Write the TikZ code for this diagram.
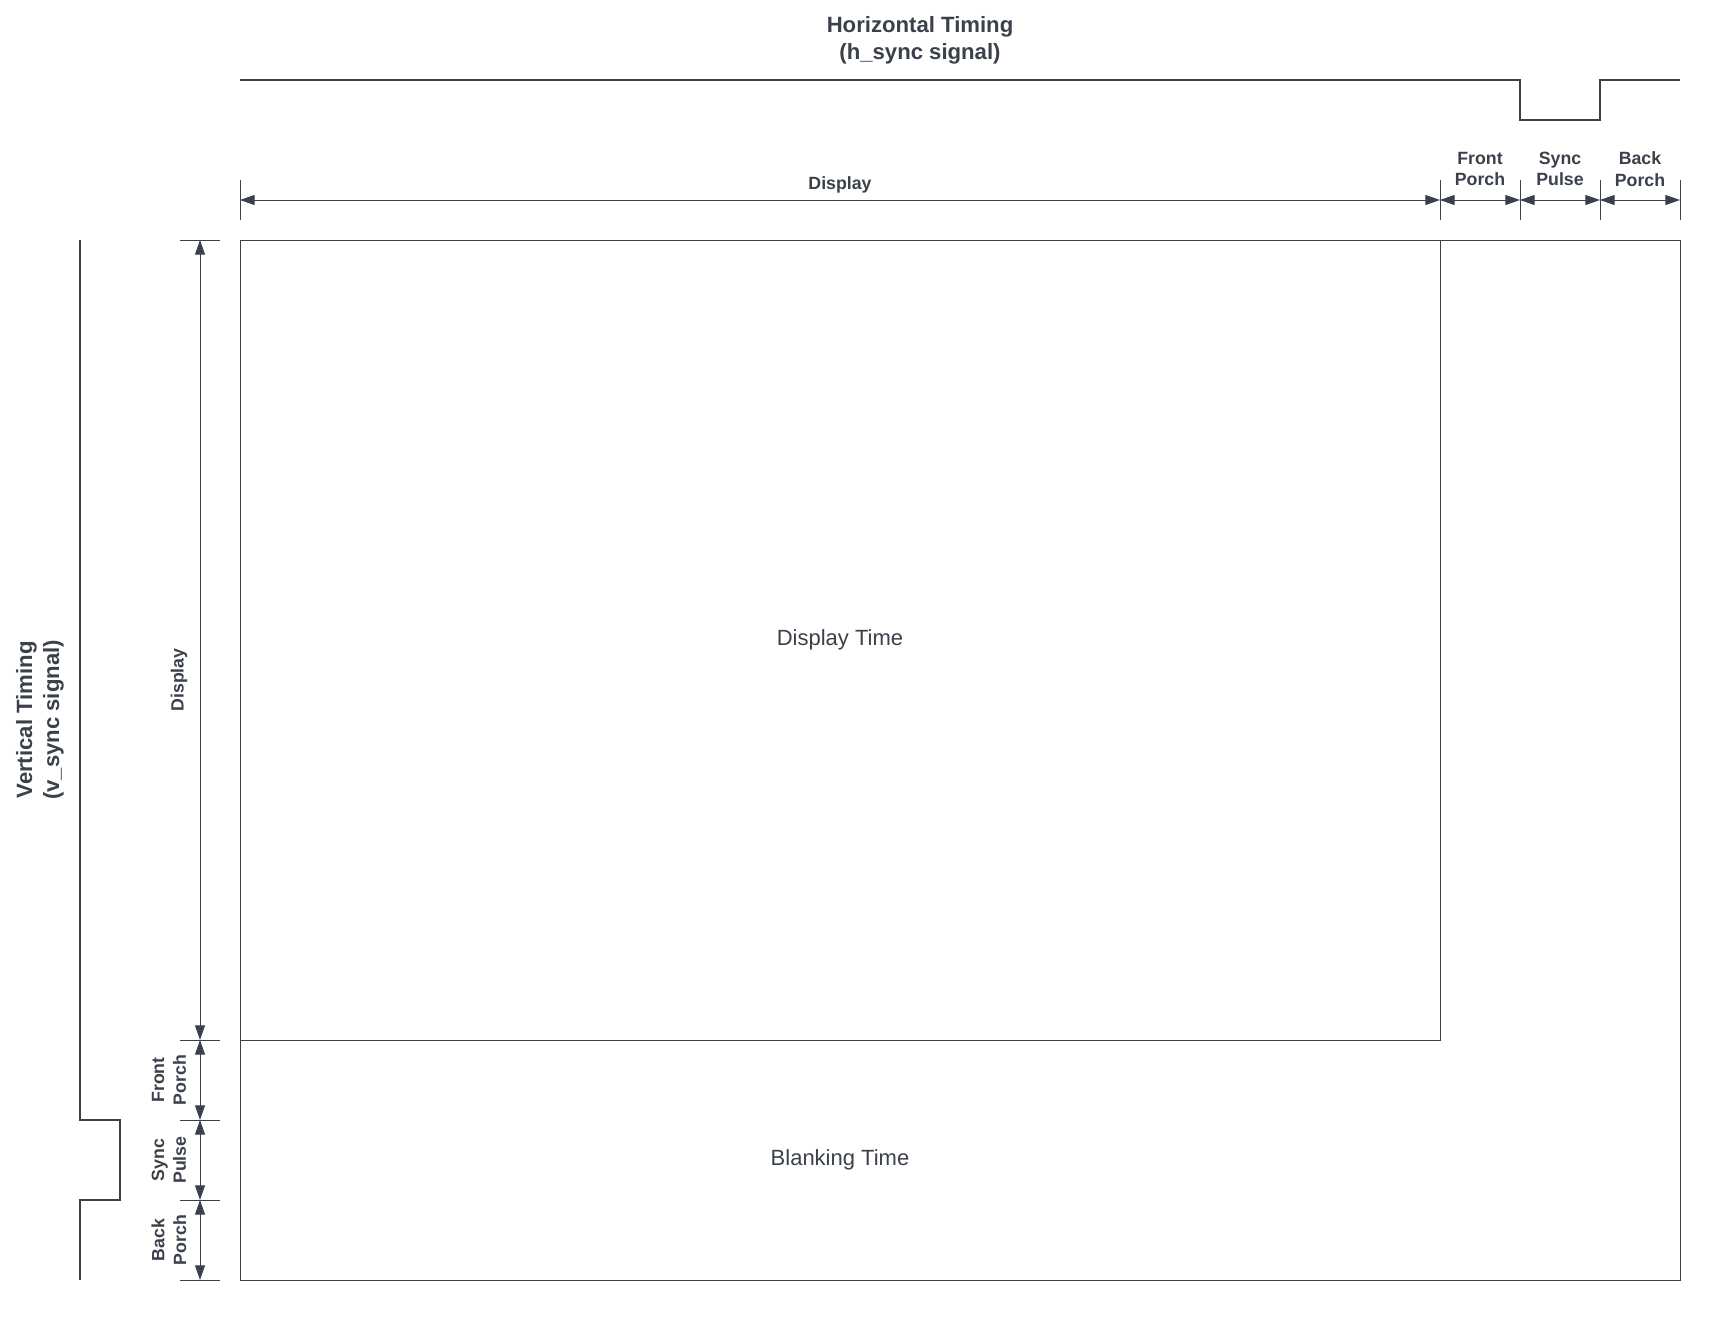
\documentclass[tikz,border=0pt]{standalone}
\usepackage{fontspec}
\setmainfont{Liberation Sans}
\usetikzlibrary{arrows.meta}
\definecolor{ink}{HTML}{3A414A}

\begin{document}
\begin{tikzpicture}[x=0.75pt, y=-0.75pt, draw=ink, text=ink,
        signal/.style={line width=1.5pt},
        boxline/.style={line width=0.75pt},
        tickline/.style={line width=0.75pt},
        dim/.style={line width=0.75pt, {Triangle[length=11pt, width=7.5pt]}-{Triangle[length=11pt, width=7.5pt]}},
        headline/.style={font=\fontsize{16.6}{20.3}\selectfont\bfseries, align=center, inner sep=0pt},
        lbl/.style={font=\fontsize{13.3}{16.3}\selectfont\bfseries, align=center, inner sep=0pt},
        arealabel/.style={font=\fontsize{16.5}{20}\selectfont, inner sep=0pt}]
        \useasboundingbox (0, 0) rectangle (1720, 1320);

        \coordinate (TL) at (240, 240);
        \coordinate (BR) at (1680, 1280);
        \coordinate (DR) at (1440, 1040);

        % Screen
        \draw[boxline] (TL) rectangle (BR);
        \draw[boxline] (TL |- DR) -- (DR) -- (DR |- TL);
        \node[arealabel] (disptime) at (840, 640) {Display Time};
        \node[arealabel] (blanktime) at (840, 1160) {Blanking Time};

        % h_sync signal
        \node[headline] (htitle) at (920, 40) {Horizontal Timing\\(h\_sync signal)};
        \draw[signal] (240, 80) -- (1520, 80) -- (1520, 120) -- (1600, 120) -- (1600, 80) -- (1680, 80);

        % v_sync signal
        \node[headline, rotate=90] (vtitle) at (40, 720) {Vertical Timing\\(v\_sync signal)};
        \draw[signal] (80, 240) -- (80, 1120) -- (120, 1120) -- (120, 1200) -- (80, 1200) -- (80, 1280);

        % Horizontal spans
        \foreach \n/\x in {0/240, 1/1440, 2/1520, 3/1600, 4/1680} {
            \coordinate (h\n) at (\x, 200);
            \draw[tickline] (\x, 180) -- (\x, 220);
        }
        \draw[dim] (h0) -- (h1);
        \draw[dim] (h1) -- (h2);
        \draw[dim] (h2) -- (h3);
        \draw[dim] (h3) -- (h4);
        \node[lbl] (hdisp) at (840, 185) {Display};
        \node[lbl] (hfront) at (1480, 169) {Front\\Porch};
        \node[lbl] (hsync) at (1560, 169) {Sync\\Pulse};
        \node[lbl] (hback) at (1640, 169) {Back\\Porch};

        % Vertical spans
        \foreach \n/\y in {0/240, 1/1040, 2/1120, 3/1200, 4/1280} {
            \coordinate (v\n) at (200, \y);
            \draw[tickline] (180, \y) -- (220, \y);
        }
        \draw[dim] (v0) -- (v1);
        \draw[dim] (v1) -- (v2);
        \draw[dim] (v2) -- (v3);
        \draw[dim] (v3) -- (v4);
        \node[lbl, rotate=90] (vdisp) at (179, 680) {Display};
        \node[lbl, rotate=90] (vfront) at (169, 1080) {Front\\Porch};
        \node[lbl, rotate=90] (vsync) at (169, 1160) {Sync\\Pulse};
        \node[lbl, rotate=90] (vback) at (169, 1240) {Back\\Porch};

    \end{tikzpicture}
\end{document}
